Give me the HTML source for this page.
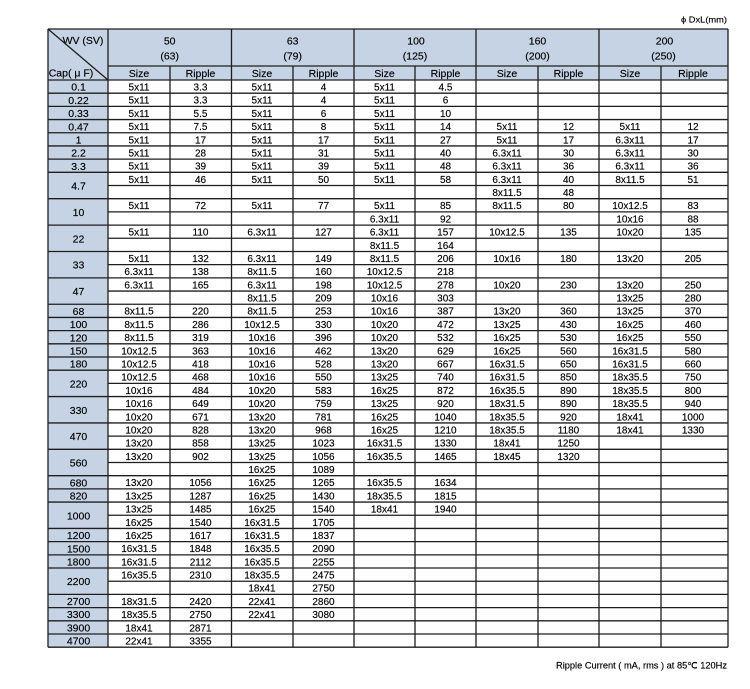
<!DOCTYPE html>
<html><head><meta charset="utf-8"><style>
html,body{margin:0;padding:0;background:#fff;}
svg{display:block;}
text{font-family:"Liberation Sans","NanumGothic",sans-serif;font-size:10px;text-anchor:middle;fill:#000;stroke:#000;stroke-width:0.15;}
.h{font-size:10.5px;}
.c{font-size:10.5px;}
.ln{stroke:#1e1e1e;stroke-width:1.3;fill:none;}
</style></head><body>
<svg width="750" height="689" viewBox="0 0 750 689" xmlns="http://www.w3.org/2000/svg">
<rect x="48" y="29" width="680" height="51" fill="#c5d3e4"/>
<rect x="48" y="80" width="60" height="567.2" fill="#c5d3e4"/>
<text x="727" y="22.5" style="font-size:8.5px;text-anchor:end" textLength="46" lengthAdjust="spacingAndGlyphs">ϕ DxL(mm)</text>
<text x="727" y="668.5" style="font-size:9px;text-anchor:end" textLength="171" lengthAdjust="spacingAndGlyphs">Ripple Current ( mA, rms ) at 85℃ 120Hz</text>
<g class="h">
<text x="83" y="44" class="h">WV (SV)</text>
<text x="71" y="76.5" class="h">Cap( μ F)</text>
<text x="169.7" y="44.5" class="h">50</text><text x="169.7" y="59.5" class="h">(63)</text>
<text x="292.7" y="44.5" class="h">63</text><text x="292.7" y="59.5" class="h">(79)</text>
<text x="416" y="44.5" class="h">100</text><text x="415" y="59.5" class="h">(125)</text>
<text x="537.5" y="44.5" class="h">160</text><text x="537.5" y="59.5" class="h">(200)</text>
<text x="664.5" y="44.5" class="h">200</text><text x="663.5" y="59.5" class="h">(250)</text>
<text x="139" y="77" class="h">Size</text><text x="200.5" y="77" class="h">Ripple</text>
<text x="262" y="77" class="h">Size</text><text x="323.5" y="77" class="h">Ripple</text>
<text x="384.5" y="77" class="h">Size</text><text x="445.5" y="77" class="h">Ripple</text>
<text x="507" y="77" class="h">Size</text><text x="568.5" y="77" class="h">Ripple</text>
<text x="630" y="77" class="h">Size</text><text x="693" y="77" class="h">Ripple</text>
</g>
<g>
<text class="c" x="78.5" y="90.7">0.1</text>
<text class="c" x="78.5" y="103.9">0.22</text>
<text class="c" x="78.5" y="117.1">0.33</text>
<text class="c" x="78.5" y="130.3">0.47</text>
<text class="c" x="78.5" y="143.5">1</text>
<text class="c" x="78.5" y="156.7">2.2</text>
<text class="c" x="78.5" y="169.9">3.3</text>
<text class="c" x="78.5" y="189.5">4.7</text>
<text class="c" x="78.5" y="215.9">10</text>
<text class="c" x="78.5" y="242.3">22</text>
<text class="c" x="78.5" y="268.7">33</text>
<text class="c" x="78.5" y="295.1">47</text>
<text class="c" x="78.5" y="314.9">68</text>
<text class="c" x="78.5" y="328.1">100</text>
<text class="c" x="78.5" y="341.3">120</text>
<text class="c" x="78.5" y="354.5">150</text>
<text class="c" x="78.5" y="367.7">180</text>
<text class="c" x="78.5" y="387.4">220</text>
<text class="c" x="78.5" y="413.8">330</text>
<text class="c" x="78.5" y="440.2">470</text>
<text class="c" x="78.5" y="466.6">560</text>
<text class="c" x="78.5" y="486.4">680</text>
<text class="c" x="78.5" y="499.6">820</text>
<text class="c" x="78.5" y="519.3">1000</text>
<text class="c" x="78.5" y="539.1">1200</text>
<text class="c" x="78.5" y="552.3">1500</text>
<text class="c" x="78.5" y="565.5">1800</text>
<text class="c" x="78.5" y="585.2">2200</text>
<text class="c" x="78.5" y="605">2700</text>
<text class="c" x="78.5" y="618.2">3300</text>
<text class="c" x="78.5" y="631.4">3900</text>
<text class="c" x="78.5" y="644.6">4700</text>
</g>
<g transform="translate(0,80)"><text x="139" y="10.5">5x11</text><text x="200.5" y="10.5">3.3</text><text x="262" y="10.5">5x11</text><text x="323.5" y="10.5">4</text><text x="384.5" y="10.5">5x11</text><text x="445.5" y="10.5">4.5</text></g>
<g transform="translate(0,93.19)"><text x="139" y="10.5">5x11</text><text x="200.5" y="10.5">3.3</text><text x="262" y="10.5">5x11</text><text x="323.5" y="10.5">4</text><text x="384.5" y="10.5">5x11</text><text x="445.5" y="10.5">6</text></g>
<g transform="translate(0,106.38)"><text x="139" y="10.5">5x11</text><text x="200.5" y="10.5">5.5</text><text x="262" y="10.5">5x11</text><text x="323.5" y="10.5">6</text><text x="384.5" y="10.5">5x11</text><text x="445.5" y="10.5">10</text></g>
<g transform="translate(0,119.57)"><text x="139" y="10.5">5x11</text><text x="200.5" y="10.5">7.5</text><text x="262" y="10.5">5x11</text><text x="323.5" y="10.5">8</text><text x="384.5" y="10.5">5x11</text><text x="445.5" y="10.5">14</text><text x="507" y="10.5">5x11</text><text x="568.5" y="10.5">12</text><text x="630" y="10.5">5x11</text><text x="693" y="10.5">12</text></g>
<g transform="translate(0,132.76)"><text x="139" y="10.5">5x11</text><text x="200.5" y="10.5">17</text><text x="262" y="10.5">5x11</text><text x="323.5" y="10.5">17</text><text x="384.5" y="10.5">5x11</text><text x="445.5" y="10.5">27</text><text x="507" y="10.5">5x11</text><text x="568.5" y="10.5">17</text><text x="630" y="10.5">6.3x11</text><text x="693" y="10.5">17</text></g>
<g transform="translate(0,145.95)"><text x="139" y="10.5">5x11</text><text x="200.5" y="10.5">28</text><text x="262" y="10.5">5x11</text><text x="323.5" y="10.5">31</text><text x="384.5" y="10.5">5x11</text><text x="445.5" y="10.5">40</text><text x="507" y="10.5">6.3x11</text><text x="568.5" y="10.5">30</text><text x="630" y="10.5">6.3x11</text><text x="693" y="10.5">30</text></g>
<g transform="translate(0,159.14)"><text x="139" y="10.5">5x11</text><text x="200.5" y="10.5">39</text><text x="262" y="10.5">5x11</text><text x="323.5" y="10.5">39</text><text x="384.5" y="10.5">5x11</text><text x="445.5" y="10.5">48</text><text x="507" y="10.5">6.3x11</text><text x="568.5" y="10.5">36</text><text x="630" y="10.5">6.3x11</text><text x="693" y="10.5">36</text></g>
<g transform="translate(0,172.33)"><text x="139" y="10.5">5x11</text><text x="200.5" y="10.5">46</text><text x="262" y="10.5">5x11</text><text x="323.5" y="10.5">50</text><text x="384.5" y="10.5">5x11</text><text x="445.5" y="10.5">58</text><text x="507" y="10.5">6.3x11</text><text x="568.5" y="10.5">40</text><text x="630" y="10.5">8x11.5</text><text x="693" y="10.5">51</text></g>
<g transform="translate(0,185.52)"><text x="507" y="10.5">8x11.5</text><text x="568.5" y="10.5">48</text></g>
<g transform="translate(0,198.71)"><text x="139" y="10.5">5x11</text><text x="200.5" y="10.5">72</text><text x="262" y="10.5">5x11</text><text x="323.5" y="10.5">77</text><text x="384.5" y="10.5">5x11</text><text x="445.5" y="10.5">85</text><text x="507" y="10.5">8x11.5</text><text x="568.5" y="10.5">80</text><text x="630" y="10.5">10x12.5</text><text x="693" y="10.5">83</text></g>
<g transform="translate(0,211.9)"><text x="384.5" y="10.5">6.3x11</text><text x="445.5" y="10.5">92</text><text x="630" y="10.5">10x16</text><text x="693" y="10.5">88</text></g>
<g transform="translate(0,225.09)"><text x="139" y="10.5">5x11</text><text x="200.5" y="10.5">110</text><text x="262" y="10.5">6.3x11</text><text x="323.5" y="10.5">127</text><text x="384.5" y="10.5">6.3x11</text><text x="445.5" y="10.5">157</text><text x="507" y="10.5">10x12.5</text><text x="568.5" y="10.5">135</text><text x="630" y="10.5">10x20</text><text x="693" y="10.5">135</text></g>
<g transform="translate(0,238.28)"><text x="384.5" y="10.5">8x11.5</text><text x="445.5" y="10.5">164</text></g>
<g transform="translate(0,251.47)"><text x="139" y="10.5">5x11</text><text x="200.5" y="10.5">132</text><text x="262" y="10.5">6.3x11</text><text x="323.5" y="10.5">149</text><text x="384.5" y="10.5">8x11.5</text><text x="445.5" y="10.5">206</text><text x="507" y="10.5">10x16</text><text x="568.5" y="10.5">180</text><text x="630" y="10.5">13x20</text><text x="693" y="10.5">205</text></g>
<g transform="translate(0,264.66)"><text x="139" y="10.5">6.3x11</text><text x="200.5" y="10.5">138</text><text x="262" y="10.5">8x11.5</text><text x="323.5" y="10.5">160</text><text x="384.5" y="10.5">10x12.5</text><text x="445.5" y="10.5">218</text></g>
<g transform="translate(0,277.85)"><text x="139" y="10.5">6.3x11</text><text x="200.5" y="10.5">165</text><text x="262" y="10.5">6.3x11</text><text x="323.5" y="10.5">198</text><text x="384.5" y="10.5">10x12.5</text><text x="445.5" y="10.5">278</text><text x="507" y="10.5">10x20</text><text x="568.5" y="10.5">230</text><text x="630" y="10.5">13x20</text><text x="693" y="10.5">250</text></g>
<g transform="translate(0,291.04)"><text x="262" y="10.5">8x11.5</text><text x="323.5" y="10.5">209</text><text x="384.5" y="10.5">10x16</text><text x="445.5" y="10.5">303</text><text x="630" y="10.5">13x25</text><text x="693" y="10.5">280</text></g>
<g transform="translate(0,304.23)"><text x="139" y="10.5">8x11.5</text><text x="200.5" y="10.5">220</text><text x="262" y="10.5">8x11.5</text><text x="323.5" y="10.5">253</text><text x="384.5" y="10.5">10x16</text><text x="445.5" y="10.5">387</text><text x="507" y="10.5">13x20</text><text x="568.5" y="10.5">360</text><text x="630" y="10.5">13x25</text><text x="693" y="10.5">370</text></g>
<g transform="translate(0,317.42)"><text x="139" y="10.5">8x11.5</text><text x="200.5" y="10.5">286</text><text x="262" y="10.5">10x12.5</text><text x="323.5" y="10.5">330</text><text x="384.5" y="10.5">10x20</text><text x="445.5" y="10.5">472</text><text x="507" y="10.5">13x25</text><text x="568.5" y="10.5">430</text><text x="630" y="10.5">16x25</text><text x="693" y="10.5">460</text></g>
<g transform="translate(0,330.61)"><text x="139" y="10.5">8x11.5</text><text x="200.5" y="10.5">319</text><text x="262" y="10.5">10x16</text><text x="323.5" y="10.5">396</text><text x="384.5" y="10.5">10x20</text><text x="445.5" y="10.5">532</text><text x="507" y="10.5">16x25</text><text x="568.5" y="10.5">530</text><text x="630" y="10.5">16x25</text><text x="693" y="10.5">550</text></g>
<g transform="translate(0,343.8)"><text x="139" y="10.5">10x12.5</text><text x="200.5" y="10.5">363</text><text x="262" y="10.5">10x16</text><text x="323.5" y="10.5">462</text><text x="384.5" y="10.5">13x20</text><text x="445.5" y="10.5">629</text><text x="507" y="10.5">16x25</text><text x="568.5" y="10.5">560</text><text x="630" y="10.5">16x31.5</text><text x="693" y="10.5">580</text></g>
<g transform="translate(0,356.99)"><text x="139" y="10.5">10x12.5</text><text x="200.5" y="10.5">418</text><text x="262" y="10.5">10x16</text><text x="323.5" y="10.5">528</text><text x="384.5" y="10.5">13x20</text><text x="445.5" y="10.5">667</text><text x="507" y="10.5">16x31.5</text><text x="568.5" y="10.5">650</text><text x="630" y="10.5">16x31.5</text><text x="693" y="10.5">660</text></g>
<g transform="translate(0,370.18)"><text x="139" y="10.5">10x12.5</text><text x="200.5" y="10.5">468</text><text x="262" y="10.5">10x16</text><text x="323.5" y="10.5">550</text><text x="384.5" y="10.5">13x25</text><text x="445.5" y="10.5">740</text><text x="507" y="10.5">16x31.5</text><text x="568.5" y="10.5">850</text><text x="630" y="10.5">18x35.5</text><text x="693" y="10.5">750</text></g>
<g transform="translate(0,383.37)"><text x="139" y="10.5">10x16</text><text x="200.5" y="10.5">484</text><text x="262" y="10.5">10x20</text><text x="323.5" y="10.5">583</text><text x="384.5" y="10.5">16x25</text><text x="445.5" y="10.5">872</text><text x="507" y="10.5">16x35.5</text><text x="568.5" y="10.5">890</text><text x="630" y="10.5">18x35.5</text><text x="693" y="10.5">800</text></g>
<g transform="translate(0,396.56)"><text x="139" y="10.5">10x16</text><text x="200.5" y="10.5">649</text><text x="262" y="10.5">10x20</text><text x="323.5" y="10.5">759</text><text x="384.5" y="10.5">13x25</text><text x="445.5" y="10.5">920</text><text x="507" y="10.5">18x31.5</text><text x="568.5" y="10.5">890</text><text x="630" y="10.5">18x35.5</text><text x="693" y="10.5">940</text></g>
<g transform="translate(0,409.75)"><text x="139" y="10.5">10x20</text><text x="200.5" y="10.5">671</text><text x="262" y="10.5">13x20</text><text x="323.5" y="10.5">781</text><text x="384.5" y="10.5">16x25</text><text x="445.5" y="10.5">1040</text><text x="507" y="10.5">18x35.5</text><text x="568.5" y="10.5">920</text><text x="630" y="10.5">18x41</text><text x="693" y="10.5">1000</text></g>
<g transform="translate(0,422.94)"><text x="139" y="10.5">10x20</text><text x="200.5" y="10.5">828</text><text x="262" y="10.5">13x20</text><text x="323.5" y="10.5">968</text><text x="384.5" y="10.5">16x25</text><text x="445.5" y="10.5">1210</text><text x="507" y="10.5">18x35.5</text><text x="568.5" y="10.5">1180</text><text x="630" y="10.5">18x41</text><text x="693" y="10.5">1330</text></g>
<g transform="translate(0,436.13)"><text x="139" y="10.5">13x20</text><text x="200.5" y="10.5">858</text><text x="262" y="10.5">13x25</text><text x="323.5" y="10.5">1023</text><text x="384.5" y="10.5">16x31.5</text><text x="445.5" y="10.5">1330</text><text x="507" y="10.5">18x41</text><text x="568.5" y="10.5">1250</text></g>
<g transform="translate(0,449.32)"><text x="139" y="10.5">13x20</text><text x="200.5" y="10.5">902</text><text x="262" y="10.5">13x25</text><text x="323.5" y="10.5">1056</text><text x="384.5" y="10.5">16x35.5</text><text x="445.5" y="10.5">1465</text><text x="507" y="10.5">18x45</text><text x="568.5" y="10.5">1320</text></g>
<g transform="translate(0,462.51)"><text x="262" y="10.5">16x25</text><text x="323.5" y="10.5">1089</text></g>
<g transform="translate(0,475.7)"><text x="139" y="10.5">13x20</text><text x="200.5" y="10.5">1056</text><text x="262" y="10.5">16x25</text><text x="323.5" y="10.5">1265</text><text x="384.5" y="10.5">16x35.5</text><text x="445.5" y="10.5">1634</text></g>
<g transform="translate(0,488.89)"><text x="139" y="10.5">13x25</text><text x="200.5" y="10.5">1287</text><text x="262" y="10.5">16x25</text><text x="323.5" y="10.5">1430</text><text x="384.5" y="10.5">18x35.5</text><text x="445.5" y="10.5">1815</text></g>
<g transform="translate(0,502.08)"><text x="139" y="10.5">13x25</text><text x="200.5" y="10.5">1485</text><text x="262" y="10.5">16x25</text><text x="323.5" y="10.5">1540</text><text x="384.5" y="10.5">18x41</text><text x="445.5" y="10.5">1940</text></g>
<g transform="translate(0,515.27)"><text x="139" y="10.5">16x25</text><text x="200.5" y="10.5">1540</text><text x="262" y="10.5">16x31.5</text><text x="323.5" y="10.5">1705</text></g>
<g transform="translate(0,528.46)"><text x="139" y="10.5">16x25</text><text x="200.5" y="10.5">1617</text><text x="262" y="10.5">16x31.5</text><text x="323.5" y="10.5">1837</text></g>
<g transform="translate(0,541.65)"><text x="139" y="10.5">16x31.5</text><text x="200.5" y="10.5">1848</text><text x="262" y="10.5">16x35.5</text><text x="323.5" y="10.5">2090</text></g>
<g transform="translate(0,554.84)"><text x="139" y="10.5">16x31.5</text><text x="200.5" y="10.5">2112</text><text x="262" y="10.5">16x35.5</text><text x="323.5" y="10.5">2255</text></g>
<g transform="translate(0,568.03)"><text x="139" y="10.5">16x35.5</text><text x="200.5" y="10.5">2310</text><text x="262" y="10.5">18x35.5</text><text x="323.5" y="10.5">2475</text></g>
<g transform="translate(0,581.22)"><text x="262" y="10.5">18x41</text><text x="323.5" y="10.5">2750</text></g>
<g transform="translate(0,594.41)"><text x="139" y="10.5">18x31.5</text><text x="200.5" y="10.5">2420</text><text x="262" y="10.5">22x41</text><text x="323.5" y="10.5">2860</text></g>
<g transform="translate(0,607.6)"><text x="139" y="10.5">18x35.5</text><text x="200.5" y="10.5">2750</text><text x="262" y="10.5">22x41</text><text x="323.5" y="10.5">3080</text></g>
<g transform="translate(0,620.79)"><text x="139" y="10.5">18x41</text><text x="200.5" y="10.5">2871</text></g>
<g transform="translate(0,633.98)"><text x="139" y="10.5">22x41</text><text x="200.5" y="10.5">3355</text></g>
<path class="ln" d="M48,29H728 M108,66H728 M48,80H728
M48,29V647.2 M108,29V647.2 M231.5,29V647.2 M354,29V647.2 M476,29V647.2 M599,29V647.2 M728,29V647.2
M170,66V647.2 M293,66V647.2 M415,66V647.2 M538,66V647.2 M661,66V647.2
M48,29L108,80
M48,93.19H728 M48,106.38H728 M48,119.57H728 M48,132.76H728 M48,145.95H728 M48,159.14H728 M48,172.33H728
M108,185.52H728 M48,198.71H728 M108,211.9H728 M48,225.09H728 M108,238.28H728 M48,251.47H728 M108,264.66H728
M48,277.85H728 M108,291.04H728 M48,304.23H728 M48,317.42H728 M48,330.61H728 M48,343.8H728 M48,356.99H728
M48,370.18H728 M108,383.37H728 M48,396.56H728 M108,409.75H728 M48,422.94H728 M108,436.13H728 M48,449.32H728
M108,462.51H728 M48,475.7H728 M48,488.89H728 M48,502.08H728 M108,515.27H728 M48,528.46H728 M48,541.65H728
M48,554.84H728 M48,568.03H728 M108,581.22H728 M48,594.41H728 M48,607.6H728 M48,620.79H728 M48,633.98H728
M48,647.17H728"/>
</svg>
</body></html>
